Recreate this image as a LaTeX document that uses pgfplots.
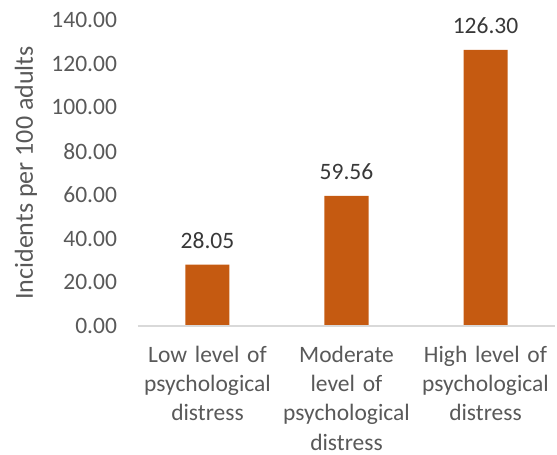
\documentclass[border=0pt]{standalone}
\usepackage{pgfplots}
\pgfplotsset{compat=1.18}
\usepackage{fontspec}
\setmainfont{Carlito}
\definecolor{barc}{HTML}{C55A11}
\definecolor{txt}{HTML}{595959}
\definecolor{axl}{HTML}{D9D9D9}
\begin{document}
\fontsize{23.5bp}{28.7bp}\selectfont
\begin{tikzpicture}
\begin{axis}[
  at={(0,0)}, anchor=south west,
  scale only axis,
  width=417bp, height=306bp,
  xmin=-0.5, xmax=2.5,
  ymin=0, ymax=140,
  ytick={0,20,...,140},
  xtick=data,
  xticklabels={Low level of psychological distress, Moderate level of psychological distress, High level of psychological distress},
  xticklabel style={text width=140bp, align=center, font=\fontsize{23.5bp}{29.3bp}\selectfont, text=txt, anchor=north, yshift=-12bp},
  yticklabel style={font=\fontsize{23.5bp}{28.7bp}\selectfont, text=txt, xshift=-13bp},
  /pgf/number format/assume math mode=true,
  yticklabel={\pgfmathprintnumber[fixed, fixed zerofill, precision=2]{\tick}},
  axis line style={draw=none},
  major tick length=0pt,
  every axis y label/.style={at={(axis description cs:-0.269,0.5)}, rotate=90, anchor=center},
  ylabel={Incidents per 100 adults},
  ylabel style={font=\fontsize{26bp}{30bp}\selectfont, text=txt},
  ybar, bar width=44bp,
  nodes near coords={\pgfmathprintnumber[fixed, fixed zerofill, precision=2, assume math mode=true]{\pgfplotspointmeta}},
  nodes near coords style={font=\fontsize{23.5bp}{28.7bp}\selectfont, text=black!78, anchor=south, yshift=8bp},
  clip=false,
]
\addplot[fill=barc, draw=none] coordinates {(0,28.05) (1,59.56) (2,126.30)};
\draw[axl, line width=1.2bp] (rel axis cs:0,0) -- (rel axis cs:1,0);
\end{axis}
\pgfresetboundingbox
\path (-138bp,-129bp) rectangle (419bp,326bp);
\end{tikzpicture}
\end{document}
